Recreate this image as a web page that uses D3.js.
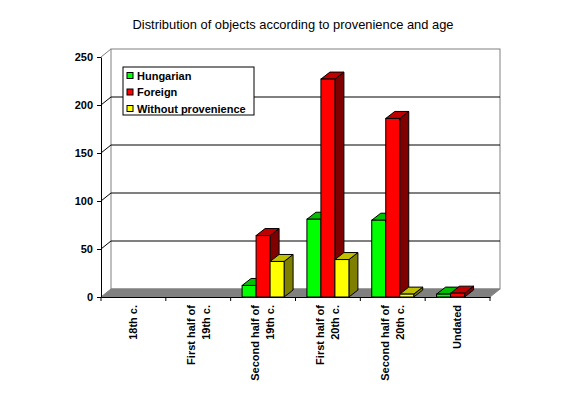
<!DOCTYPE html>
<html>
<head>
<meta charset="utf-8">
<script src="https://cdn.jsdelivr.net/npm/d3@7"></script>
<style>
  body { margin: 0; background: #fff; }
  text { font-family: Arial, "Liberation Sans", sans-serif; }
</style>
</head>
<body>
<div id="chart"></div>
<script>
// data
const categories = ["18th c.", "First half of 19th c.", "Second half of 19th c.",
                    "First half of 20th c.", "Second half of 20th c.", "Undated"];
const catLines = [["18th c."], ["First half of", "19th c."], ["Second half of", "19th c."],
                  ["First half of", "20th c."], ["Second half of", "20th c."], ["Undated"]];
const seriesNames = ["Hungarian", "Foreign", "Without provenience"];
const hungarian = [0, 0, 12, 81, 80, 3];
const foreign = [0, 0, 64, 227, 186, 4];
const withoutProv = [0, 0, 37, 39, 3, 0];
const yTicks = [0, 50, 100, 150, 200, 250];

const colors = {
  "Hungarian": {front: "#00ff00", top: "#00c000", side: "#008000"},
  "Foreign": {front: "#ff0000", top: "#c00000", side: "#800000"},
  "Without provenience": {front: "#ffff00", top: "#c0c000", side: "#808000"}
};
const seriesValues = [hungarian, foreign, withoutProv];

const W = 587, H = 399;
const wallDx = 10, wallDy = -8;   // depth of the back wall
const barDx = 9, barDy = -7;      // depth of each bar

var svg = d3.select("#chart").append("svg")
    .attr("width", W)
    .attr("height", H);

const y = d3.scaleLinear().domain([0, 250]).range([297, 57]);
const x = d3.scaleBand().domain(categories).range([101, 490]);
const xs = d3.scaleBand().domain(seriesNames).range([0, x.bandwidth()]).paddingOuter(0.815);

const x0 = x.range()[0], x1 = x.range()[1];

// title
svg.append("text")
    .attr("x", 293)
    .attr("y", 29)
    .attr("text-anchor", "middle")
    .style("font-size", "12.9px")
    .text("Distribution of objects according to provenience and age");

// back wall
svg.append("rect")
    .attr("x", x0 + wallDx).attr("y", y(250) + wallDy)
    .attr("width", x1 - x0).attr("height", y(0) - y(250))
    .attr("fill", "#fff").attr("stroke", "#808080");

// gridlines on wall
svg.selectAll(".grid")
  .data(yTicks.filter(d => d > 0 && d < 250))
  .enter().append("line")
    .attr("x1", x0 + wallDx).attr("x2", x1 + wallDx)
    .attr("y1", d => y(d) + wallDy).attr("y2", d => y(d) + wallDy)
    .attr("stroke", "#000");

// left wall connectors
svg.selectAll(".conn")
  .data(yTicks.filter(d => d > 0))
  .enter().append("line")
    .attr("x1", x0).attr("y1", d => y(d))
    .attr("x2", x0 + wallDx).attr("y2", d => y(d) + wallDy)
    .attr("stroke", d => d == 250 ? "#808080" : "#000");

// floor
svg.append("path")
    .attr("d", `M${x0},${y(0)} L${x0 + wallDx},${y(0) + wallDy} L${x1 + wallDx},${y(0) + wallDy} L${x1},${y(0)} Z`)
    .attr("fill", "#808080").attr("stroke", "#808080");

// bars
categories.forEach((c, i) => {
  seriesNames.forEach((s, j) => {
    const v = seriesValues[j][i];
    if (!v) return;
    const bx = x(c) + xs(s), bw = xs.bandwidth();
    const top = y(v), bot = y(0);
    const col = colors[s];
    const g = svg.append("g").attr("stroke", "#000").attr("stroke-width", 1);
    g.append("path")
      .attr("d", `M${bx + bw},${top} L${bx + bw + barDx},${top + barDy} L${bx + bw + barDx},${bot + barDy} L${bx + bw},${bot} Z`)
      .attr("fill", col.side);
    g.append("path")
      .attr("d", `M${bx},${top} L${bx + barDx},${top + barDy} L${bx + bw + barDx},${top + barDy} L${bx + bw},${top} Z`)
      .attr("fill", col.top);
    g.append("rect")
      .attr("x", bx).attr("y", top)
      .attr("width", bw).attr("height", bot - top)
      .attr("fill", col.front);
  });
});

// y axis
const yAxis = d3.axisLeft(y).tickValues(yTicks).tickSize(4).tickSizeOuter(0).tickPadding(4);
const gy = svg.append("g")
    .attr("transform", `translate(${x0},0)`)
    .call(yAxis);
gy.select(".domain").attr("stroke", "#000");
gy.selectAll("text").style("font-size", "11px").style("font-weight", "bold").attr("fill", "#000");

// x axis
const gx = svg.append("g")
    .attr("transform", `translate(0,${y(0)})`)
    .call(d3.axisBottom(x).tickSize(0).tickFormat(""));
gx.select(".domain").attr("stroke", "#000");
gx.selectAll(".sep")
  .data(categories.concat(["end"]))
  .enter().append("line")
    .attr("x1", (d, i) => x0 + i * x.step()).attr("x2", (d, i) => x0 + i * x.step())
    .attr("y1", 0).attr("y2", 4)
    .attr("stroke", "#000");

// category labels (rotated)
categories.forEach((c, i) => {
  const cx = x(c) + x.bandwidth() / 2;
  const lines = catLines[i];
  lines.forEach((ln, k) => {
    const lx = cx + (k - (lines.length - 1) / 2) * 15;
    svg.append("text")
      .attr("transform", `translate(${lx},305) rotate(-90)`)
      .attr("text-anchor", "end")
      .attr("dy", "0.35em")
      .style("font-size", "11px")
      .style("font-weight", "bold")
      .text(ln);
  });
});

// legend
const legend = svg.append("g").attr("transform", "translate(123,67)");
legend.append("rect")
    .attr("width", 131).attr("height", 48)
    .attr("fill", "#fff").attr("stroke", "#000");
seriesNames.forEach((s, j) => {
  legend.append("rect")
    .attr("x", 4).attr("y", 5.5 + j * 16.5)
    .attr("width", 6).attr("height", 6)
    .attr("fill", colors[s].front).attr("stroke", "#000");
  legend.append("text")
    .attr("x", 14).attr("y", 12.5 + j * 16.5)
    .style("font-size", "11px")
    .style("font-weight", "bold")
    .text(s);
});
</script>
</body>
</html>
